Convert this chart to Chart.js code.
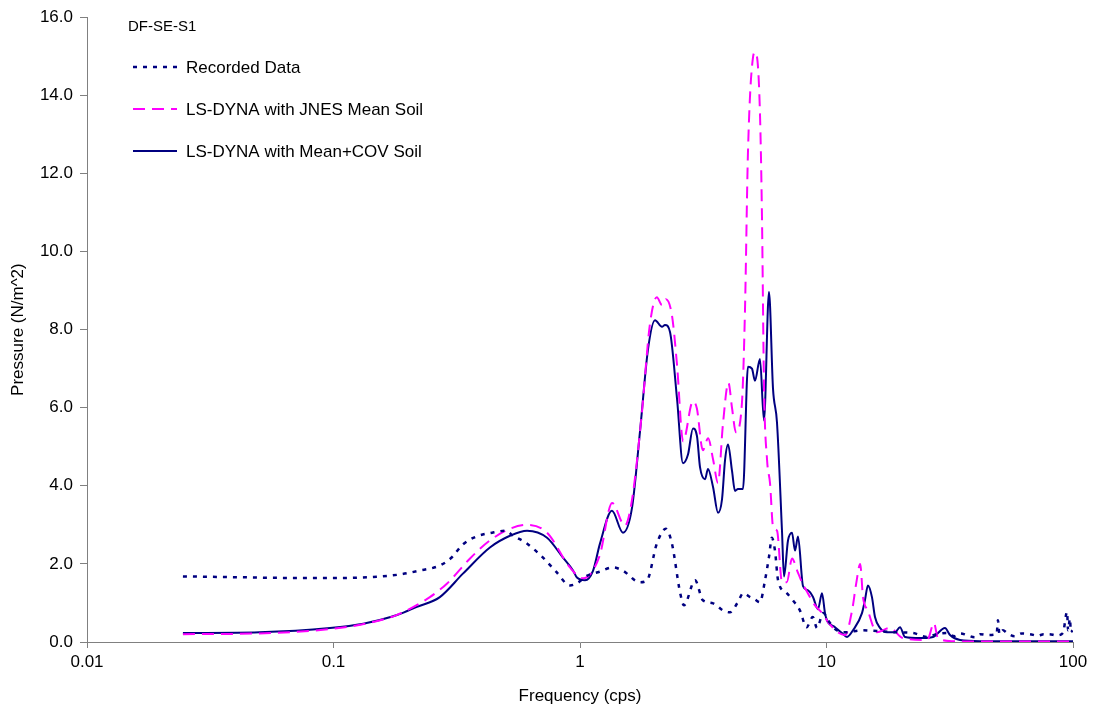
<!DOCTYPE html>
<html>
<head>
<meta charset="utf-8">
<title>DF-SE-S1</title>
<script src="https://cdn.jsdelivr.net/npm/chart.js@4/dist/chart.umd.min.js"></script>
<style>
  html, body { margin: 0; padding: 0; background: #fff; }
  #wrap { width: 1094px; height: 714px; position: relative; }
</style>
</head>
<body>
<div id="wrap"><canvas id="psdChart"></canvas></div>
<script>
// Données (fréquence en cps, pression en N/m^2)
const chartTitle = 'DF-SE-S1';
const seriesLabels = ['Recorded Data', 'LS-DYNA with JNES Mean Soil', 'LS-DYNA with Mean+COV Soil'];
const xTickValues = [0.01, 0.1, 1, 10, 100];

const recFreq = [0.0245, 0.04, 0.07, 0.1, 0.14, 0.186, 0.22, 0.27, 0.3, 0.335, 0.38, 0.44, 0.5, 0.535, 0.6,
    0.708, 0.8, 0.91, 0.97, 1.07, 1.2, 1.36, 1.49, 1.75, 1.87, 2.05, 2.23, 2.36, 2.55, 2.64, 2.93, 3.15,
    3.47, 3.8, 4.06, 4.35, 4.6, 4.9, 5.1, 5.37, 5.63, 5.85, 6.0, 6.18, 6.36, 6.9, 7.3, 7.8, 8.3, 8.8, 9.15,
    9.7, 10.3, 11.0, 12.0, 13.9, 16.0, 19.0, 22.4, 25.6, 28.0, 30.8, 33, 35, 37, 40, 42, 45, 49.0, 49.6, 50.3,
    52, 54, 58, 62, 67, 72, 76, 80, 86, 91, 94.6, 95.5, 97.2, 98, 99.5];
const recVal = [1.68, 1.66, 1.64, 1.64, 1.66, 1.73, 1.82, 1.96, 2.15, 2.5, 2.7, 2.8, 2.85, 2.72, 2.55,
    2.16, 1.8, 1.45, 1.5, 1.7, 1.8, 1.91, 1.83, 1.53, 1.58, 2.52, 2.9, 2.52, 1.25, 0.94, 1.58, 1.07,
    0.99, 0.81, 0.76, 1.0, 1.25, 1.15, 1.1, 1.02, 1.58, 2.2, 2.67, 2.34, 1.58, 1.25, 1.07, 0.81, 0.38, 0.64, 0.36,
    0.74, 0.5, 0.3, 0.25, 0.3, 0.28, 0.25, 0.23, 0.13, 0.2, 0.23, 0.15, 0.22, 0.18, 0.12, 0.2, 0.18, 0.2, 0.56, 0.2,
    0.3, 0.23, 0.15, 0.22, 0.2, 0.16, 0.2, 0.2, 0.17, 0.23, 0.77, 0.3, 0.6, 0.25, 0.3];

const meanFreq = [0.0245, 0.05, 0.0968, 0.13, 0.18, 0.246, 0.289, 0.358, 0.431, 0.52, 0.61, 0.735, 0.91,
    1.03, 1.2, 1.35, 1.52, 1.63, 1.78, 1.92, 2.05, 2.15, 2.23, 2.36, 2.475, 2.62, 2.87, 2.98, 3.15, 3.31,
    3.47, 3.63, 3.8, 4.0, 4.14, 4.29, 4.54, 4.67, 4.8, 5.03, 5.13, 5.22, 5.37, 5.47, 5.58, 5.74, 5.9, 6.07,
    6.3, 6.6, 6.9, 7.25, 7.6, 7.95, 8.4, 8.98, 9.6, 10.1, 10.5, 11.1, 11.9, 12.7, 13.2, 13.7, 14.06, 14.7,
    16.0, 18.1, 20.4, 25.6, 27.3, 28.3, 32.6, 40, 100];
const meanVal = [0.2, 0.22, 0.33, 0.45, 0.69, 1.15, 1.5, 2.14, 2.6, 2.9, 3.0, 2.8, 1.91,
    1.63, 2.2, 3.56, 2.98, 3.69, 5.83, 8.12, 8.83, 8.63, 8.78, 8.37, 7.1, 5.14, 6.16, 5.98, 4.91, 5.22,
    4.66, 4.07, 5.57, 6.64, 5.98, 5.37, 6.13, 8.5, 12.5, 14.96, 15.1, 15.0, 13.56, 11.0, 6.49, 4.66, 4.07, 2.95,
    2.85, 1.53, 1.53, 2.14, 1.83, 1.53, 1.25, 0.94, 0.74, 0.53, 0.4, 0.25, 0.18, 0.81, 1.5, 2.0, 1.15, 0.81,
    0.25, 0.36, 0.1, 0.05, 0.48, 0.1, 0.02, 0.01, 0.01];

const covFreq = [0.0245, 0.05, 0.0968, 0.132, 0.181, 0.218, 0.27, 0.335, 0.431, 0.52, 0.61, 0.735, 0.853,
    0.937, 0.972, 1.048, 1.13, 1.205, 1.348, 1.494, 1.626, 1.752, 1.888, 2.015, 2.151, 2.212, 2.318, 2.475,
    2.617, 2.742, 2.873, 2.983, 3.068, 3.215, 3.306, 3.465, 3.63, 3.769, 3.876, 3.986, 4.137, 4.254, 4.375,
    4.584, 4.802, 4.985, 5.126, 5.372, 5.576, 5.843, 6.067, 6.297, 6.598, 6.723, 6.979, 7.245, 7.451, 7.663,
    8.03, 8.413, 8.815, 9.237, 9.588, 9.86, 10.05, 10.83, 11.56, 12.11, 12.81, 13.93, 14.32, 14.73, 15.29,
    15.73, 16.48, 17.6, 18.96, 19.87, 20.82, 23.95, 27.04, 30.25, 31.7, 34.79, 41.95, 100];
const covVal = [0.23, 0.25, 0.36, 0.47, 0.69, 0.9, 1.15, 1.75, 2.42, 2.72, 2.85, 2.67, 2.16,
    1.83, 1.65, 1.58, 1.83, 2.52, 3.36, 2.8, 3.44, 5.4, 7.5, 8.24, 8.07, 8.12, 7.94, 6.23,
    4.58, 4.8, 5.47, 5.27, 4.48, 4.17, 4.43, 3.97, 3.31, 3.66, 4.66, 5.06, 4.38, 3.87, 3.92,
    3.92, 7.05, 7.0, 6.69, 7.25, 5.67, 8.96, 6.49, 5.62, 2.85, 1.68, 2.6, 2.8, 2.34, 2.7,
    1.43, 1.32, 1.15, 0.84, 1.25, 0.74, 0.55, 0.38, 0.23, 0.13, 0.3, 0.74, 1.07, 1.45, 1.15,
    0.64, 0.36, 0.25, 0.25, 0.38, 0.13, 0.1, 0.13, 0.36, 0.18, 0.05, 0.02, 0.02];

document.addEventListener('DOMContentLoaded', function () {

    const fontFamily = '"Liberation Sans", Arial, sans-serif';
    const axisGray = '#808080';

    // Assemble les couples (x, y) pour l'axe logarithmique
    function toPoints(freqs, vals) {
        return freqs.map((f, i) => ({ x: f, y: vals[i] }));
    }

    // Légende dessinée dans la zone du graphique, comme dans l'original
    const insideLegend = {
        id: 'insideLegend',
        afterDraw(chart) {
            const ctx = chart.ctx;
            ctx.save();
            ctx.fillStyle = '#000';
            ctx.textBaseline = 'middle';
            ctx.textAlign = 'left';
            ctx.font = '15px ' + fontFamily;
            ctx.fillText(chartTitle, 128, 27);
            ctx.font = '17px ' + fontFamily;
            chart.data.datasets.forEach((ds, i) => {
                const y = 67 + i * 42;
                ctx.strokeStyle = ds.borderColor;
                ctx.lineWidth = ds.borderWidth;
                ctx.setLineDash(ds.borderDash || []);
                ctx.beginPath();
                ctx.moveTo(133, y);
                ctx.lineTo(177, y);
                ctx.stroke();
                ctx.setLineDash([]);
                ctx.fillText(ds.label, 186, y + 1);
            });
            ctx.restore();
        }
    };

    const commonLine = {
        pointRadius: 0,
        pointHoverRadius: 0,
        fill: false,
        cubicInterpolationMode: 'monotone'
    };

    const ctx = document.getElementById('psdChart').getContext('2d');
    new Chart(ctx, {
        type: 'line',
        data: {
            datasets: [
                Object.assign({
                    label: seriesLabels[0],
                    data: toPoints(recFreq, recVal),
                    borderColor: '#000080',
                    borderWidth: 2.5,
                    borderDash: [4, 6]
                }, commonLine),
                Object.assign({
                    label: seriesLabels[1],
                    data: toPoints(meanFreq, meanVal),
                    borderColor: '#FF00FF',
                    borderWidth: 2,
                    borderDash: [12, 7]
                }, commonLine),
                Object.assign({
                    label: seriesLabels[2],
                    data: toPoints(covFreq, covVal),
                    borderColor: '#000080',
                    borderWidth: 2,
                    borderDash: []
                }, commonLine)
            ]
        },
        options: {
            responsive: true,
            maintainAspectRatio: false,
            animation: false,
            layout: {
                padding: { top: 13, right: 21, left: 0, bottom: 0 }
            },
            plugins: {
                legend: { display: false },
                tooltip: { enabled: false }
            },
            scales: {
                x: {
                    type: 'logarithmic',
                    min: 0.01,
                    max: 100,
                    afterFit: function (scale) { scale.height = 72; },
                    afterBuildTicks: function (scale) {
                        scale.ticks = xTickValues.map(v => ({ value: v }));
                    },
                    ticks: {
                        autoSkip: false,
                        maxRotation: 0,
                        padding: 4,
                        color: '#000',
                        font: { family: fontFamily, size: 17 },
                        callback: function (value) { return String(value); }
                    },
                    grid: {
                        drawOnChartArea: false,
                        drawTicks: true,
                        tickLength: 6,
                        color: axisGray
                    },
                    border: { display: true, color: axisGray, width: 1 },
                    title: {
                        display: true,
                        text: 'Frequency (cps)',
                        color: '#000',
                        font: { family: fontFamily, size: 17 },
                        padding: { top: 0, bottom: 7 }
                    }
                },
                y: {
                    min: 0,
                    max: 16,
                    afterFit: function (scale) { scale.width = 87; },
                    ticks: {
                        stepSize: 2,
                        padding: 7,
                        color: '#000',
                        font: { family: fontFamily, size: 17 },
                        callback: function (value) { return Number(value).toFixed(1); }
                    },
                    grid: {
                        drawOnChartArea: false,
                        drawTicks: true,
                        tickLength: 7,
                        color: axisGray
                    },
                    border: { display: true, color: axisGray, width: 1 },
                    title: {
                        display: true,
                        text: 'Pressure (N/m^2)',
                        color: '#000',
                        font: { family: fontFamily, size: 17 },
                        padding: { top: 8, bottom: 0 }
                    }
                }
            }
        },
        plugins: [insideLegend]
    });
});
</script>
</body>
</html>
